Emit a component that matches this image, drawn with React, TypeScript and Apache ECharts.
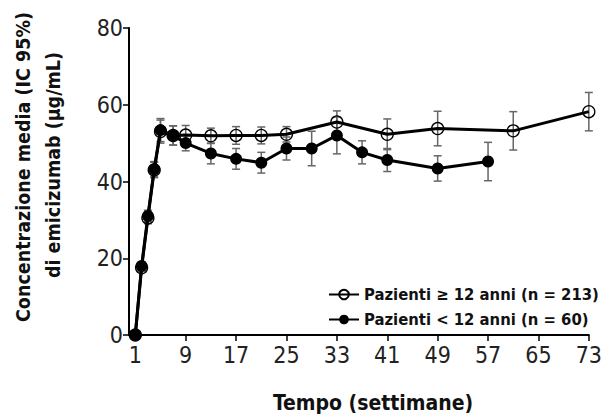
import React, { useEffect, useRef } from "react";
import * as echarts from "echarts";

const xTicks = [1, 9, 17, 25, 33, 41, 49, 57, 65, 73];

const weeksOld = [1, 2, 3, 4, 5, 7, 9, 13, 17, 21, 25, 33, 41, 49, 61, 73];
const meanOld = [0, 17.5, 30.5, 43, 53, 52, 52.1, 51.9, 52, 52, 52.3, 55.5, 52.3, 53.8, 53.2, 58.2];
const ciOld = [0, 1, 1.5, 2, 3, 2.5, 2.5, 2, 2.3, 2.2, 2, 2.9, 4, 4.5, 5, 5];

const weeksYoung = [1, 2, 3, 4, 5, 7, 9, 13, 17, 21, 25, 29, 33, 37, 41, 49, 57];
const meanYoung = [0, 18, 31, 43.2, 53.4, 52, 50, 47.3, 45.9, 44.9, 48.6, 48.6, 52, 47.6, 45.6, 43.4, 45.2];
const ciYoung = [0, 1, 1.5, 2, 3, 2.5, 2, 2.7, 2.7, 2.7, 3, 4.5, 4.8, 3, 3, 3.3, 5];

const nameOld = "Pazienti ≥ 12 anni (n = 213)";
const nameYoung = "Pazienti < 12 anni (n = 60)";

const FONT = "'Liberation Sans Narrow', 'DejaVu Sans Condensed', 'Roboto Condensed', 'Liberation Sans', sans-serif";

function errData(w: number[], m: number[], c: number[]) {
  return w.map((x, i) => [x, m[i] - c[i], m[i] + c[i]]).filter((_, i) => c[i] > 0);
}

function renderErr(params: any, api: any) {
  const x = api.value(0);
  const lo = api.value(1);
  const hi = api.value(2);
  const t = api.coord([x, hi]);
  const b = api.coord([x, lo]);
  const w = 4;
  const st = { stroke: "#666", lineWidth: 1.5 };
  return {
    type: "group",
    children: [
      { type: "line", shape: { x1: t[0], y1: t[1], x2: b[0], y2: b[1] }, style: st },
      { type: "line", shape: { x1: t[0] - w, y1: t[1], x2: t[0] + w, y2: t[1] }, style: st },
      { type: "line", shape: { x1: b[0] - w, y1: b[1], x2: b[0] + w, y2: b[1] }, style: st },
    ],
  };
}

export default function App() {
  const ref = useRef<HTMLDivElement>(null);
  useEffect(() => {
    document.body.style.margin = "0";
    const chart = echarts.init(ref.current!, undefined, { renderer: "svg" });
    chart.setOption({
      animation: false,
      backgroundColor: "#fff",
      grid: { left: 129, right: 15, top: 28, bottom: 83, containLabel: false },
      xAxis: {
        type: "value",
        min: 0,
        max: 73,
        splitLine: { show: false },
        axisLine: { lineStyle: { color: "#000", width: 2 } },
        axisTick: { show: true, customValues: xTicks, length: 6, lineStyle: { color: "#000", width: 1.5 } },
        axisLabel: { customValues: xTicks, color: "#222", fontSize: 23, fontFamily: FONT, margin: 8 },
      },
      yAxis: {
        type: "value",
        min: 0,
        max: 80,
        interval: 20,
        splitLine: { show: false },
        axisLine: { show: true, lineStyle: { color: "#000", width: 2 } },
        axisTick: { show: true, length: 6, lineStyle: { color: "#000", width: 1.5 } },
        axisLabel: { color: "#222", fontSize: 23, fontFamily: FONT, margin: 6 },
      },
      legend: {
        orient: "vertical",
        left: 323,
        top: 281,
        itemWidth: 30,
        itemHeight: 12,
        itemGap: 8,
        data: [nameOld, nameYoung],
        textStyle: { fontSize: 16.5, fontWeight: "bold", fontFamily: FONT, color: "#111" },
      },
      graphic: [
        {
          type: "text",
          x: 23,
          y: 167,
          rotation: Math.PI / 2,
          style: {
            text: "Concentrazione media (IC 95%)",
            fontSize: 19.5,
            fontWeight: "bold",
            fontFamily: FONT,
            fill: "#111",
            textAlign: "center",
            textVerticalAlign: "middle",
          },
        },
        {
          type: "text",
          x: 53,
          y: 165,
          rotation: Math.PI / 2,
          style: {
            text: "di emicizumab (µg/mL)",
            fontSize: 19.5,
            fontWeight: "bold",
            fontFamily: FONT,
            fill: "#111",
            textAlign: "center",
            textVerticalAlign: "middle",
          },
        },
        {
          type: "text",
          x: 373,
          y: 403,
          style: {
            text: "Tempo (settimane)",
            fontSize: 21,
            fontWeight: "bold",
            fontFamily: FONT,
            fill: "#111",
            textAlign: "center",
            textVerticalAlign: "middle",
          },
        },
      ],
      series: [
        {
          type: "custom",
          name: "errOld",
          renderItem: renderErr,
          encode: { x: 0, y: [1, 2] },
          data: errData(weeksOld, meanOld, ciOld),
          z: 1,
        },
        {
          type: "custom",
          name: "errYoung",
          renderItem: renderErr,
          encode: { x: 0, y: [1, 2] },
          data: errData(weeksYoung, meanYoung, ciYoung),
          z: 1,
        },
        {
          type: "line",
          name: nameOld,
          data: weeksOld.map((w, i) => [w, meanOld[i]]),
          symbol: "circle",
          symbolSize: 12,
          showAllSymbol: true,
          lineStyle: { color: "#000", width: 3 },
          itemStyle: { color: "rgba(255,255,255,0)", borderColor: "#000", borderWidth: 1.3 },
          z: 3,
        },
        {
          type: "line",
          name: nameYoung,
          data: weeksYoung.map((w, i) => [w, meanYoung[i]]),
          symbol: "circle",
          symbolSize: 12,
          showAllSymbol: true,
          lineStyle: { color: "#000", width: 3 },
          itemStyle: { color: "#000", borderColor: "#000", borderWidth: 0 },
          z: 4,
        },
      ],
    });
    return () => chart.dispose();
  }, []);
  return <div ref={ref} style={{ position: "fixed", left: 0, top: 0, width: 605, height: 418 }} />;
}
